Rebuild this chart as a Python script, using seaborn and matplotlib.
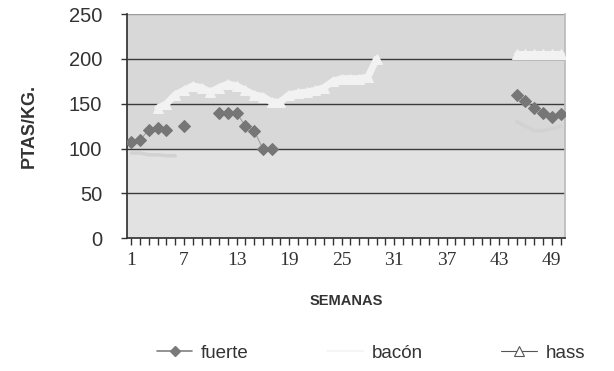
import matplotlib
matplotlib.use("Agg")
import matplotlib.pyplot as plt
from matplotlib.lines import Line2D
import numpy as np
import pandas as pd
import seaborn as sns

nan = np.nan
semanas = list(range(1, 51))

# precios semanales (ptas/kg), NaN = sin dato
fuerte = [107, 110, 121, 123, 121, nan, 125, nan, nan, nan,
          140, 140, 140, 125, 120, 100, 100, nan, nan, nan,
          nan, nan, nan, nan, nan, nan, nan, nan, nan, nan,
          nan, nan, nan, nan, nan, nan, nan, nan, nan, nan,
          nan, nan, nan, nan, 160, 153, 145, 140, 135, 139]
bacon = [95, 95, 93, 93, 92, 92, nan, nan, nan, nan,
         nan, nan, nan, nan, nan, nan, nan, nan, nan, nan,
         nan, nan, nan, nan, nan, nan, nan, nan, nan, nan,
         nan, nan, nan, nan, nan, nan, nan, nan, nan, nan,
         nan, nan, nan, nan, 130, 125, 120, 120, 122, 125]
hass = [nan, nan, nan, 145, 150, 160, 165, 170, 168, 163,
        168, 172, 170, 165, 160, 158, 152, 152, 160, 162,
        163, 165, 168, 175, 178, 178, 178, 180, 200, nan,
        nan, nan, nan, nan, nan, nan, nan, nan, nan, nan,
        nan, nan, nan, nan, 205, 205, 205, 205, 205, 205]

xticks = list(range(1, 50, 6))
yticks = [0, 50, 100, 150, 200, 250]


def to_frame(values):
    df = pd.DataFrame({"semana": semanas, "precio": values})
    df["tramo"] = df["precio"].isna().cumsum()
    return df.dropna()


sns.set_theme(style="white")
plt.rcParams["font.family"] = ["Liberation Sans", "DejaVu Sans"]

fig = plt.figure(figsize=(6.14, 3.71), dpi=100)
ax = fig.add_axes([0.207, 0.358, 0.713, 0.604])
ax.set_facecolor("#d8d8d8")
ax.axhspan(0, 100, color="#e2e2e2", zorder=0)

for y in [50, 100, 150, 200]:
    ax.axhline(y, color="#3a3a3a", lw=1, zorder=1)
ax.axhline(250, color="#9a9a9a", lw=1, zorder=1)

sns.lineplot(data=to_frame(bacon), x="semana", y="precio", units="tramo",
             estimator=None, color="#d2d2d2", lw=2.5, ax=ax, zorder=2)
sns.lineplot(data=to_frame(hass), x="semana", y="precio", units="tramo",
             estimator=None, color="#f2f2f2", lw=5, marker="^", markersize=7,
             markerfacecolor="#f2f2f2", markeredgecolor="#f2f2f2", ax=ax, zorder=3)
sns.lineplot(data=to_frame(fuerte), x="semana", y="precio", units="tramo",
             estimator=None, color="#a0a0a0", lw=0.8, marker="D", markersize=6.5,
             markerfacecolor="#767676", markeredgecolor="#767676", ax=ax, zorder=4)

ax.set_xlim(0.5, 50.5)
ax.set_ylim(0, 250)
ax.set_xticks(xticks)
ax.set_xticks(semanas, minor=True)
ax.set_xticklabels([str(t) for t in xticks], family="Liberation Serif",
                   fontsize=14, color="#333333")
ax.set_yticks(yticks)
ax.set_yticklabels([str(t) for t in yticks], fontsize=14.5, color="#333333")
ax.tick_params(axis="x", which="both", direction="out", length=5, width=1,
               color="#333333", bottom=True, pad=5)
ax.tick_params(axis="y", direction="out", length=4, width=1, color="#333333",
               left=True, pad=14)

ax.spines["top"].set_visible(False)
ax.spines["left"].set_color("#333333")
ax.spines["bottom"].set_color("#333333")
ax.spines["right"].set_color("#bbbbbb")

ax.set_xlabel("SEMANAS", fontsize=10.5, fontweight="bold", color="#333333", labelpad=18)
ax.set_ylabel("PTAS/KG.", fontsize=13, fontweight="bold", color="#333333", labelpad=22)

handles = [
    Line2D([], [], color="#808080", lw=1.2, marker="D", markersize=5,
           markerfacecolor="#7a7a7a", markeredgecolor="#7a7a7a"),
    Line2D([], [], color="#f4f4f4", lw=1.2),
    Line2D([], [], color="#555555", lw=0.8, marker="^", markersize=7,
           markerfacecolor="white", markeredgecolor="#555555", markeredgewidth=0.8),
]
fig.legend(handles, ["fuerte", "bacón", "hass"], loc="center",
           bbox_to_anchor=(0.604, 0.048), ncol=3, frameon=False, fontsize=13.5,
           handlelength=1.9, handletextpad=0.45, columnspacing=4.2,
           labelcolor="#333333")

fig.savefig("out.png", dpi=100, facecolor="white")
